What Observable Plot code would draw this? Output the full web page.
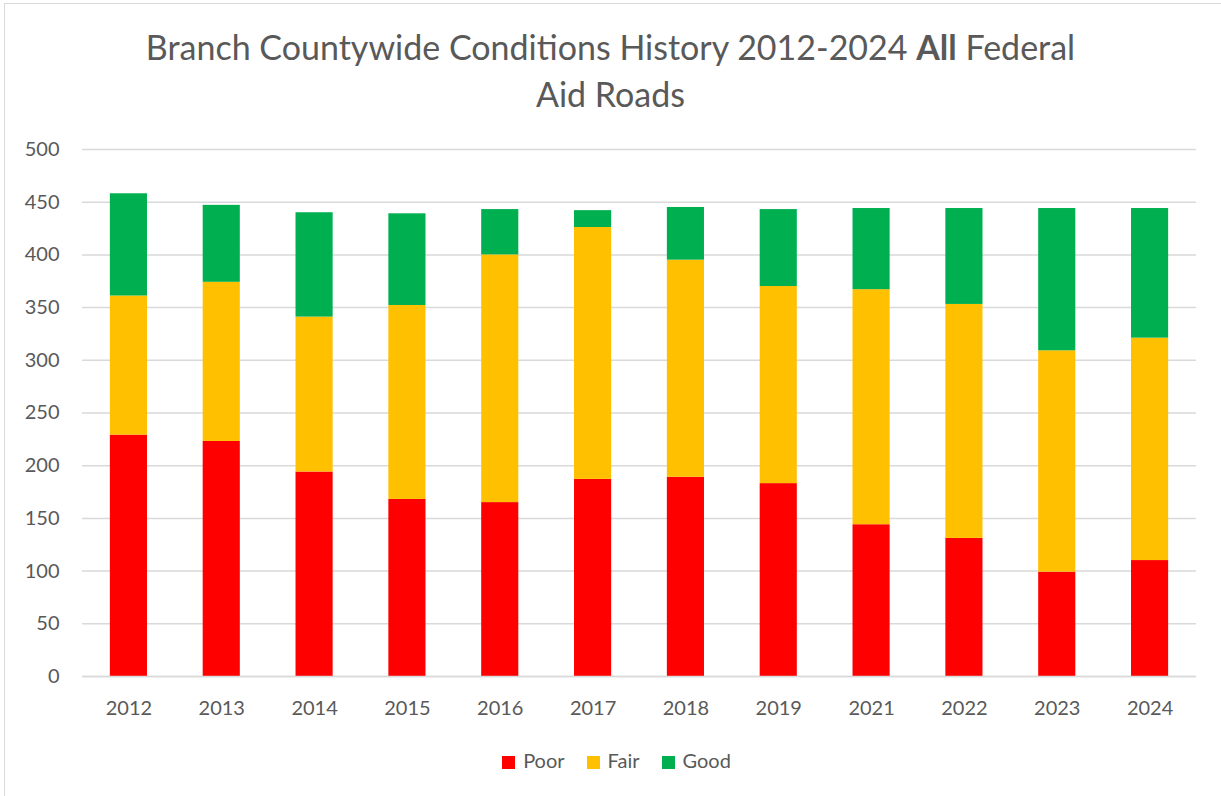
<!DOCTYPE html>
<html>
<head>
<meta charset="utf-8">
<script src="https://cdn.jsdelivr.net/npm/d3@7"></script>
<script src="https://cdn.jsdelivr.net/npm/@observablehq/plot@0.6"></script>
<style>
  html, body { margin: 0; padding: 0; background: #fff; }
  body { position: relative; width: 1221px; height: 796px; overflow: hidden; font-family: Lato, "Open Sans", sans-serif; color: #595959; }
  #frame { position: absolute; left: 4px; top: 3px; width: 1220px; height: 796px; border: 1px solid #d9d9d9; box-sizing: border-box; }
  #title { position: absolute; left: 0; width: 1221px; top: 23px; text-align: center; font-size: 34px; line-height: 47px; color: #595959; }
  #chart { position: absolute; left: 0; top: 120px; }
  #legend { position: absolute; left: 6px; width: 1221px; top: 747px; text-align: center; font-size: 20px; line-height: 26px; }
  #legend span.item { display: inline-block; margin: 0 11px; }
  #legend span.sw { display: inline-block; width: 13px; height: 13px; margin-right: 8px; vertical-align: -1px; }
</style>
</head>
<body>
<div id="frame"></div>
<div id="title">Branch Countywide Conditions History 2012-2024 <b>All</b> Federal<br>Aid Roads</div>
<div id="chart"></div>
<div id="legend"></div>
<script>
const years = ["2012","2013","2014","2015","2016","2017","2018","2019","2021","2022","2023","2024"];
const series = ["Poor","Fair","Good"];
const colors = ["#FF0000","#FFC000","#00B050"];
const poor = [229,223,194,168,165,187,189,183,144,131,99,110];
const fair = [132,151,147,184,235,239,206,187,223,222,210,211];
const good = [97,73,99,87,43,16,50,73,77,91,135,123];
const yTicks = [0,50,100,150,200,250,300,350,400,450,500];

const values = [poor, fair, good];
const data = [];
years.forEach((yr, i) => {
  series.forEach((s, j) => data.push({year: yr, condition: s, value: values[j][i]}));
});

const plot = Plot.plot({
  width: 1221,
  height: 620,
  marginTop: 29,
  marginBottom: 64,
  marginLeft: 82,
  marginRight: 25,
  style: {fontSize: "20px", fontFamily: "Lato, 'Open Sans', sans-serif", color: "#595959", background: "transparent"},
  x: {domain: years, paddingInner: 0.6, paddingOuter: 0.3, round: false, label: null},
  y: {domain: [0, 500], label: null},
  color: {domain: series, range: colors},
  marks: [
    Plot.gridY(yTicks, {stroke: "#d9d9d9", strokeOpacity: 1, strokeWidth: 1.5}),
    Plot.axisY(yTicks, {tickSize: 0, tickPadding: 23, label: null}),
    Plot.axisX({tickSize: 0, tickPadding: 24, label: null}),
    Plot.barY(data, {x: "year", y: "value", fill: "condition", order: series}),
    Plot.ruleY([0], {stroke: "#d9d9d9", strokeWidth: 1.5})
  ]
});
document.getElementById("chart").appendChild(plot);

const legend = document.getElementById("legend");
series.forEach((s, j) => {
  const item = document.createElement("span");
  item.className = "item";
  const sw = document.createElement("span");
  sw.className = "sw";
  sw.style.background = colors[j];
  item.appendChild(sw);
  item.appendChild(document.createTextNode(s));
  legend.appendChild(item);
});
</script>
</body>
</html>
